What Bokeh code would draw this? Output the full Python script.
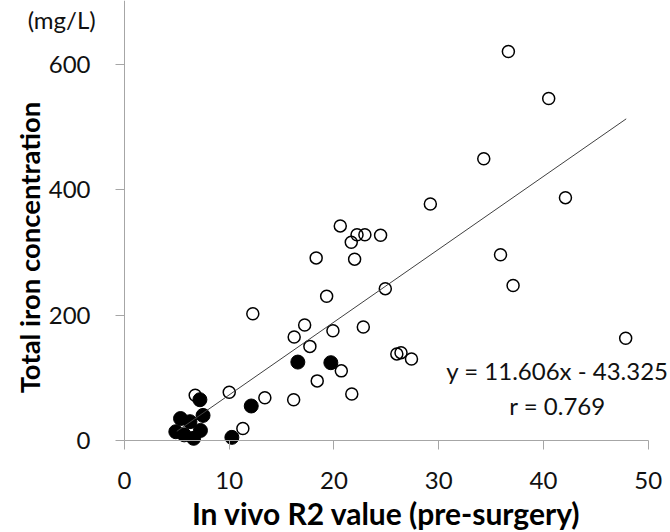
import math
from bokeh.plotting import figure
from bokeh.models import Range1d, Label, FixedTicker, LinearAxis
from bokeh.embed import file_html
from bokeh.resources import INLINE

# Open circles (in vivo R2, total iron mg/L)
open_x = [36.65, 40.5, 34.3, 42.1, 29.2, 35.9, 37.1, 20.6, 22.2, 22.95, 21.65, 24.45,
          18.3, 21.97, 24.9, 19.3, 12.25, 17.2, 16.2, 19.9, 22.8, 17.7, 26.0, 26.4,
          27.4, 20.7, 18.4, 10.0, 6.75, 13.4, 16.15, 21.7, 11.3, 47.85]
open_y = [620, 545, 449, 387, 377, 296, 247, 342, 328, 328, 316, 327,
          291, 289, 242, 230, 202, 184, 165, 175, 181, 150, 138, 140,
          130, 111, 95, 77, 72, 68, 65, 74, 19, 163]

# Filled circles
fill_x = [16.55, 19.7, 12.1, 7.2, 7.5, 5.35, 6.25, 4.9, 5.7, 6.6, 7.25, 10.25]
fill_y = [125, 124, 55, 65, 40, 35, 30, 14, 9, 3.5, 16, 5]

# Trend line
slope = 11.606
intercept = -43.325
trend_x = [5.0, 47.9]
trend_y = [slope * v + intercept for v in trend_x]

x_ticks = [0, 10, 20, 30, 40, 50]
y_ticks = [0, 200, 400, 600]
x_bounds = (0, 50)
y_bounds = (0, 701)

FONT = "Lato"
TXT = "#111111"

p = figure(width=670, height=532, output_backend="svg", toolbar_location=None,
           x_range=Range1d(-11.839, 52.129), y_range=Range1d(-146.6, 701.2),
           x_axis_location=None, y_axis_location=None, min_border=0)
p.outline_line_color = None
p.grid.grid_line_color = None
p.background_fill_color = "white"
p.border_fill_color = "white"

xa = LinearAxis(fixed_location=0, bounds=x_bounds, ticker=FixedTicker(ticks=x_ticks))
ya = LinearAxis(fixed_location=0, bounds=y_bounds, ticker=FixedTicker(ticks=y_ticks))
for ax in (xa, ya):
    ax.axis_line_color = "#a6a6a6"
    ax.axis_line_width = 1
    ax.major_tick_line_color = "#a6a6a6"
    ax.major_tick_in = 0
    ax.major_tick_out = 9
    ax.minor_tick_line_color = None
    ax.major_label_text_font = FONT
    ax.major_label_text_font_size = "24px"
    ax.major_label_text_color = TXT
    ax.axis_label_text_font = FONT
    ax.axis_label_text_font_size = "30px"
    ax.axis_label_text_font_style = "bold"
    ax.axis_label_text_color = "black"
xa.axis_label = "In vivo R2 value (pre-surgery)"
xa.major_label_standoff = 22
xa.axis_label_standoff = 3
ya.major_label_standoff = 25
p.add_layout(xa, "below")
p.add_layout(ya, "left")

p.scatter(open_x, open_y, size=12, marker="circle", fill_alpha=0,
          line_color="black", line_width=1.5)
p.scatter(fill_x, fill_y, size=14, marker="circle", fill_color="black",
          line_color="black", line_width=1)
p.line(trend_x, trend_y, line_color="#404040", line_width=1)

p.add_layout(Label(x=-9.1, y=307.6, text="Total iron concentration", angle=math.pi / 2,
                   text_align="center", text_baseline="middle", text_font=FONT,
                   text_font_size="27.5px", text_font_style="bold", text_color="black"))
p.add_layout(Label(x=-6.0, y=671, text="(mg/L)", text_align="center",
                   text_baseline="middle", text_font=FONT,
                   text_font_size="24px", text_color=TXT))
p.add_layout(Label(x=41.34, y=112, text="y = 11.606x - 43.325", text_align="center",
                   text_baseline="middle", text_font=FONT,
                   text_font_size="24px", text_color=TXT))
p.add_layout(Label(x=41.34, y=55, text="r = 0.769", text_align="center",
                   text_baseline="middle", text_font=FONT,
                   text_font_size="24px", text_color=TXT))

open("out.html", "w").write(file_html(p, INLINE))
